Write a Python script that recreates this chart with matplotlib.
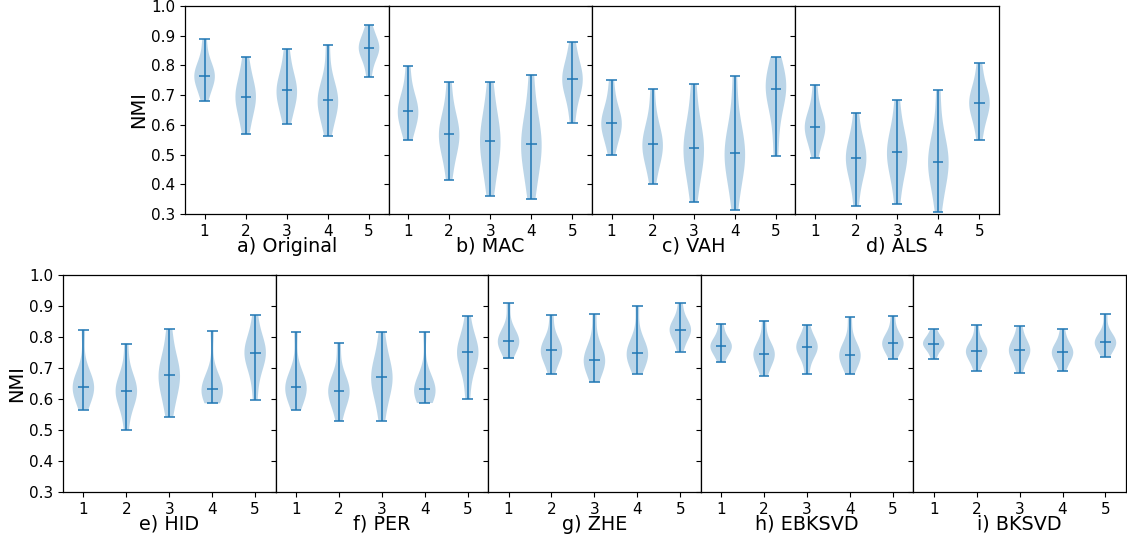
import matplotlib
matplotlib.use("Agg")
import matplotlib.pyplot as plt
import numpy as np

positions = [1, 2, 3, 4, 5]
yticks = [0.3, 0.4, 0.5, 0.6, 0.7, 0.8, 0.9, 1.0]

top_titles = ["a) Original", "b) MAC", "c) VAH", "d) ALS"]
bottom_titles = ["e) HID", "f) PER", "g) ZHE", "h) EBKSVD", "i) BKSVD"]

original = [
    [0.679, 0.72, 0.745, 0.755, 0.766, 0.775, 0.79, 0.82, 0.889],
    [0.568, 0.62, 0.66, 0.68, 0.695, 0.71, 0.73, 0.77, 0.829],
    [0.604, 0.65, 0.68, 0.70, 0.716, 0.73, 0.75, 0.79, 0.856],
    [0.564, 0.62, 0.655, 0.672, 0.684, 0.695, 0.71, 0.76, 0.870],
    [0.761, 0.81, 0.835, 0.85, 0.858, 0.866, 0.878, 0.90, 0.935],
]
mac = [
    [0.548, 0.59, 0.62, 0.635, 0.647, 0.66, 0.68, 0.72, 0.798],
    [0.414, 0.49, 0.53, 0.555, 0.569, 0.58, 0.60, 0.65, 0.744],
    [0.362, 0.44, 0.49, 0.52, 0.545, 0.57, 0.60, 0.65, 0.744],
    [0.349, 0.43, 0.48, 0.51, 0.537, 0.56, 0.59, 0.65, 0.769],
    [0.607, 0.68, 0.72, 0.74, 0.753, 0.765, 0.78, 0.82, 0.879],
]
vah = [
    [0.497, 0.55, 0.58, 0.597, 0.607, 0.617, 0.635, 0.68, 0.751],
    [0.402, 0.47, 0.505, 0.522, 0.534, 0.546, 0.57, 0.62, 0.721],
    [0.339, 0.42, 0.47, 0.50, 0.521, 0.54, 0.57, 0.63, 0.738],
    [0.315, 0.41, 0.46, 0.49, 0.504, 0.52, 0.55, 0.62, 0.764],
    [0.496, 0.60, 0.67, 0.70, 0.720, 0.735, 0.75, 0.78, 0.829],
]
als = [
    [0.488, 0.54, 0.57, 0.585, 0.594, 0.603, 0.62, 0.66, 0.735],
    [0.326, 0.41, 0.45, 0.475, 0.489, 0.50, 0.52, 0.56, 0.641],
    [0.333, 0.42, 0.46, 0.49, 0.507, 0.52, 0.545, 0.59, 0.683],
    [0.306, 0.39, 0.44, 0.465, 0.475, 0.49, 0.52, 0.58, 0.716],
    [0.548, 0.61, 0.645, 0.665, 0.675, 0.685, 0.70, 0.74, 0.807],
]
hid = [
    [0.566, 0.61, 0.625, 0.635, 0.640, 0.646, 0.655, 0.69, 0.824],
    [0.500, 0.58, 0.605, 0.62, 0.627, 0.634, 0.645, 0.68, 0.779],
    [0.543, 0.60, 0.635, 0.66, 0.676, 0.69, 0.71, 0.75, 0.826],
    [0.586, 0.605, 0.617, 0.626, 0.632, 0.638, 0.648, 0.68, 0.820],
    [0.598, 0.68, 0.72, 0.74, 0.749, 0.757, 0.77, 0.80, 0.870],
]
per = [
    [0.565, 0.605, 0.622, 0.632, 0.638, 0.645, 0.655, 0.69, 0.817],
    [0.529, 0.585, 0.607, 0.62, 0.627, 0.634, 0.645, 0.68, 0.781],
    [0.530, 0.60, 0.63, 0.655, 0.670, 0.685, 0.705, 0.745, 0.817],
    [0.587, 0.605, 0.617, 0.625, 0.631, 0.637, 0.647, 0.68, 0.817],
    [0.600, 0.68, 0.72, 0.74, 0.750, 0.758, 0.77, 0.80, 0.868],
]
zhe = [
    [0.731, 0.76, 0.775, 0.783, 0.788, 0.794, 0.803, 0.83, 0.909],
    [0.680, 0.72, 0.74, 0.75, 0.757, 0.764, 0.775, 0.80, 0.871],
    [0.654, 0.69, 0.71, 0.72, 0.727, 0.735, 0.75, 0.785, 0.873],
    [0.682, 0.715, 0.732, 0.742, 0.748, 0.755, 0.768, 0.80, 0.901],
    [0.753, 0.79, 0.808, 0.818, 0.824, 0.83, 0.84, 0.86, 0.909],
]
ebksvd = [
    [0.718, 0.745, 0.758, 0.766, 0.771, 0.776, 0.785, 0.805, 0.843],
    [0.675, 0.71, 0.728, 0.74, 0.746, 0.752, 0.762, 0.785, 0.852],
    [0.680, 0.73, 0.75, 0.76, 0.768, 0.774, 0.783, 0.80, 0.839],
    [0.680, 0.71, 0.728, 0.737, 0.743, 0.75, 0.762, 0.79, 0.863],
    [0.729, 0.755, 0.768, 0.776, 0.781, 0.787, 0.797, 0.82, 0.868],
]
bksvd = [
    [0.728, 0.755, 0.768, 0.775, 0.779, 0.783, 0.79, 0.803, 0.825],
    [0.691, 0.725, 0.74, 0.749, 0.754, 0.759, 0.768, 0.785, 0.838],
    [0.685, 0.72, 0.74, 0.751, 0.758, 0.764, 0.773, 0.795, 0.834],
    [0.689, 0.72, 0.735, 0.745, 0.751, 0.757, 0.766, 0.785, 0.827],
    [0.736, 0.76, 0.772, 0.779, 0.783, 0.788, 0.797, 0.815, 0.873],
]

top_data = [original, mac, vah, als]
bottom_data = [hid, per, zhe, ebksvd, bksvd]

fig = plt.figure(figsize=(11.27, 5.39), dpi=100)
gs_top = fig.add_gridspec(1, 4, left=0.1642, right=0.8864, top=0.9889,
                          bottom=0.603, wspace=0)
gs_bot = fig.add_gridspec(1, 5, left=0.0559, right=0.999, top=0.4898,
                          bottom=0.0872, wspace=0)


def draw_row(gs, datasets, titles):
    first = None
    for i, (d, t) in enumerate(zip(datasets, titles)):
        ax = fig.add_subplot(gs[0, i], sharey=first)
        if first is None:
            first = ax
        parts = ax.violinplot(d, positions=positions, showmedians=True,
                              showextrema=True)
        for key in ("cmins", "cmaxes", "cbars", "cmedians"):
            parts[key].set_linewidth(1.1)
        ax.set_xticks(positions)
        ax.set_ylim(0.3, 1.0)
        ax.set_yticks(yticks)
        ax.tick_params(labelsize=11)
        for s in ax.spines.values():
            s.set_linewidth(0.9)
        ax.set_xlabel(t, fontsize=13.8, labelpad=-1.5)
        if i == 0:
            ax.set_ylabel("NMI", fontsize=14, labelpad=2)
        else:
            ax.tick_params(labelleft=False)


draw_row(gs_top, top_data, top_titles)
draw_row(gs_bot, bottom_data, bottom_titles)

fig.savefig("out.png", dpi=100)
